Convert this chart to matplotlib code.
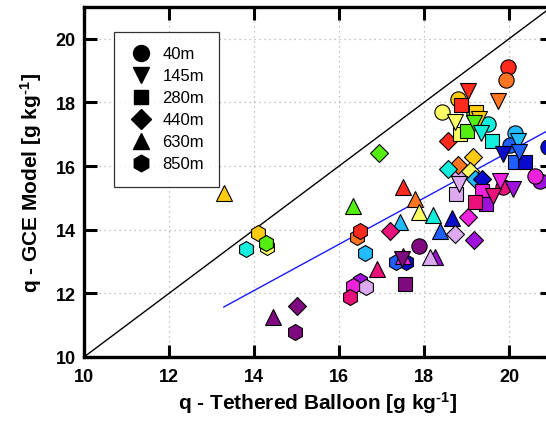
import numpy as np
import matplotlib
matplotlib.use("Agg")
import matplotlib.pyplot as plt
from matplotlib.lines import Line2D

plt.rcParams['font.family'] = ['Liberation Sans', 'DejaVu Sans']
plt.rcParams['mathtext.fontset'] = 'custom'
plt.rcParams['mathtext.bf'] = 'Liberation Sans:bold'
plt.rcParams['mathtext.rm'] = 'Liberation Sans:bold'
plt.rcParams['mathtext.default'] = 'bf'

# day colours
C = {
    'red': '#ff2a1e', 'orange': '#ff7522', 'gold': '#ffcc11', 'yellow': '#ffff66',
    'green': '#55ee11', 'cyan': '#11eedd', 'lblue': '#22bbff', 'rblue': '#1f5fff',
    'dblue': '#0a0acc', 'purple': '#a010dd', 'magenta': '#ee22dd', 'crimson': '#e8127a',
    'dpurple': '#7f0a80', 'lavender': '#ddaaf2',
}

# 40m (circles)
x40 = [19.98, 19.93, 18.80, 18.42, 19.18, 19.51, 20.14, 20.02, 20.92, 20.73, 20.61, 19.86, 17.88, 18.82]
y40 = [19.12, 18.71, 18.11, 17.70, 17.64, 17.33, 17.04, 16.67, 16.60, 15.53, 15.69, 15.35, 13.49, 15.75]
c40 = ['red', 'orange', 'gold', 'yellow', 'green', 'cyan', 'lblue', 'rblue', 'dblue', 'purple', 'magenta',
       'crimson', 'dpurple', 'lavender']

# 850m (hexagons)
x850 = [14.09, 14.31, 14.28, 13.81, 14.96, 16.42, 16.49, 16.61, 17.58, 17.34, 16.49, 16.33, 16.64, 16.26]
y850 = [13.90, 13.46, 13.58, 13.40, 10.79, 13.77, 13.96, 13.27, 12.99, 12.99, 12.39, 12.23, 12.20, 11.89]
c850 = ['gold', 'yellow', 'green', 'cyan', 'dpurple', 'orange', 'red', 'lblue', 'dblue', 'rblue', 'purple',
        'magenta', 'lavender', 'crimson']

# 630m (triangles up)
x630 = [13.29, 17.51, 17.79, 16.33, 17.88, 18.21, 18.66, 17.44, 18.38, 16.89, 17.51, 18.26, 18.14, 14.45]
y630 = [15.16, 15.35, 14.97, 14.75, 14.56, 14.47, 14.37, 14.25, 13.96, 12.77, 13.18, 13.14, 13.14, 11.26]
c630 = ['gold', 'red', 'orange', 'green', 'yellow', 'cyan', 'dblue', 'lblue', 'rblue', 'crimson', 'magenta',
        'purple', 'lavender', 'dpurple']

# 440m (diamonds)
x440 = [16.94, 18.56, 19.15, 18.80, 18.56, 19.08, 19.20, 19.36, 19.04, 18.73, 19.18, 17.20, 15.01]
y440 = [16.42, 16.79, 16.29, 16.04, 15.91, 15.85, 15.60, 15.60, 14.40, 13.87, 13.68, 13.96, 11.60]
c440 = ['green', 'red', 'gold', 'orange', 'cyan', 'yellow', 'lblue', 'dblue', 'magenta', 'lavender', 'purple',
        'crimson', 'dpurple']

# 280m (squares)
x280 = [19.22, 18.87, 18.85, 19.01, 19.60, 20.14, 20.38, 18.75, 19.36, 19.46, 19.20, 17.55]
y280 = [17.70, 17.92, 17.01, 17.11, 16.79, 16.13, 16.13, 15.13, 15.22, 14.81, 14.87, 12.30]
c280 = ['gold', 'red', 'yellow', 'green', 'cyan', 'rblue', 'dblue', 'lavender', 'magenta', 'purple', 'crimson',
        'dpurple']

# 145m (triangles down)
x145 = [19.04, 19.74, 19.29, 18.73, 19.18, 19.34, 20.21, 19.86, 20.24, 18.82, 19.79, 19.62, 20.09, 17.48]
y145 = [18.36, 18.05, 17.48, 17.39, 17.36, 17.04, 16.79, 16.38, 16.45, 15.44, 15.53, 15.06, 15.28, 13.08]
c145 = ['red', 'orange', 'gold', 'yellow', 'green', 'cyan', 'lblue', 'dblue', 'rblue', 'lavender', 'magenta',
        'crimson', 'purple', 'dpurple']

# linear fit shown in blue
fit_slope = 0.727
fit_icpt = 1.91

groups = [
    (x40, y40, c40, 'o', 11.0),
    (x850, y850, c850, 'h', 11.5),
    (x630, y630, c630, '^', 11.0),
    (x440, y440, c440, 'D', 9.5),
    (x280, y280, c280, 's', 10.0),
    (x145, y145, c145, 'v', 11.0),
]
legend_items = [('o', '40m', 11.5), ('v', '145m', 12), ('s', '280m', 10.5),
                ('D', '440m', 10), ('^', '630m', 12), ('h', '850m', 12)]

fig = plt.figure(figsize=(5.46, 4.27), dpi=100)
ax = fig.add_axes([84 / 546, 1 - 358 / 427, 467.5 / 546, 350 / 427])

ax.plot([10, 21], [10, 21], color='black', lw=1.0, zorder=2)
xf = np.array([min(x630 + x850), 21])
ax.plot(xf, fit_slope * xf + fit_icpt, color='#1a1aff', lw=1.0, zorder=2)

for xs, ys, cs, m, ms in groups:
    for xv, yv, cv in zip(xs, ys, cs):
        ax.plot(xv, yv, marker=m, ms=ms, mfc=C[cv], mec='black', mew=0.8,
                linestyle='none', zorder=3)

ax.set_xlim(10, 21)
ax.set_ylim(10, 21)
ax.set_xticks([10, 12, 14, 16, 18, 20])
ax.set_yticks([10, 12, 14, 16, 18, 20])
ax.grid(True, color='#b0b0b0', linestyle=(0, (1, 3)), lw=0.9)
ax.tick_params(direction='in', length=9, width=2.2, top=True, right=True,
               labelsize=13)
ax.tick_params(axis='x', pad=8)
ax.tick_params(axis='y', pad=6)
for lab in ax.get_xticklabels() + ax.get_yticklabels():
    lab.set_fontweight('bold')
for sp in ax.spines.values():
    sp.set_linewidth(2.4)

sup = r'$^{\text{-1}}$'
ax.set_xlabel('q - Tethered Balloon [g kg' + sup + ']', fontsize=15, fontweight='bold', labelpad=3)
ax.set_ylabel('q - GCE Model [g kg' + sup + ']', fontsize=15, fontweight='bold', labelpad=8)

handles = [Line2D([], [], marker=m, ms=s, color='black', linestyle='none') for m, _, s in legend_items]
leg = ax.legend(handles, [l for _, l, _ in legend_items], loc='upper left',
                bbox_to_anchor=(0.064, 0.93), fontsize=12, frameon=True, fancybox=False,
                edgecolor='black', handletextpad=0.6, labelspacing=0.42, borderpad=0.9,
                handlelength=1.4, borderaxespad=0)
leg.get_frame().set_linewidth(0.9)

fig.savefig('out.png', dpi=100)
